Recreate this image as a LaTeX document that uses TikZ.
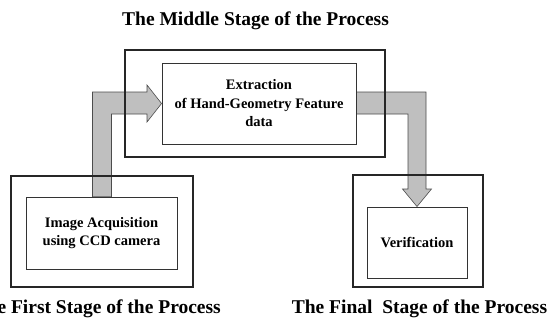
\documentclass[tikz,border=0pt]{standalone}
\usepackage{fontspec}
\setmainfont{Liberation Serif}
\pgfdeclarelayer{back}
\pgfsetlayers{back,main}
\begin{document}
\begin{tikzpicture}[x=1pt,y=-1pt,
  stagebox/.style={draw=black!85, line width=2.4pt, minimum width=#1},
  innerbox/.style={draw=black!80, line width=0.9pt, fill=white, inner sep=0pt},
  flowarrow/.style={fill=black!25, draw=black!70, line width=0.6pt, line join=miter},
  boxtext/.style={font=\bfseries\fontsize{14.5}{18.5}\selectfont, align=center},
  stagelabel/.style={font=\bfseries\fontsize{19.5}{22}\selectfont, inner sep=0pt}]
\useasboundingbox (0,0) rectangle (549,322);

% stage frames
\node[stagebox=260pt, minimum height=107pt] (midframe)   at (255,103.5) {};
\node[stagebox=182pt, minimum height=111pt] (firstframe) at (102,231.5) {};
\node[stagebox=130pt, minimum height=112pt] (finalframe) at (418,231) {};

% processing steps
\node[innerbox, boxtext, minimum width=194pt, minimum height=81pt] (extract) at (259,103.5)
  {Extraction\\of Hand-Geometry Feature\\data};
\node[innerbox, boxtext, minimum width=151pt, minimum height=72pt] (acquire) at (101.5,233)
  {Image Acquisition\\using CCD camera};
\node[innerbox, boxtext, minimum width=100pt, minimum height=71pt] (verify) at (417,242.5)
  {Verification};

% stage captions
\node[stagelabel, anchor=base] (midlabel) at (255.5,25) {The Middle Stage of the Process};
\node[stagelabel, anchor=base east] (firstlabel) at (221,313) {The First Stage of the Process};
\node[stagelabel, anchor=base] (finallabel) at (419.5,313) {The Final\ \ Stage of the Process};

% broad flow arrows behind the frames
\begin{pgfonlayer}{back}
\draw[flowarrow] ([xshift=-9pt]acquire.north) -- (92.5,92) -- (147,92) -- (147,85)
  -- (extract.west) -- (147,122) -- (147,114) -- (111.5,114)
  -- ([xshift=10pt]acquire.north) -- cycle;
\draw[flowarrow] ([yshift=11.5pt]extract.east) -- (426,92) -- (426,189) -- (431.5,189)
  -- (verify.north) -- (402.5,189) -- (408,189) -- (408,114)
  -- ([yshift=-10.5pt]extract.east) -- cycle;
\end{pgfonlayer}
\end{tikzpicture}
\end{document}
